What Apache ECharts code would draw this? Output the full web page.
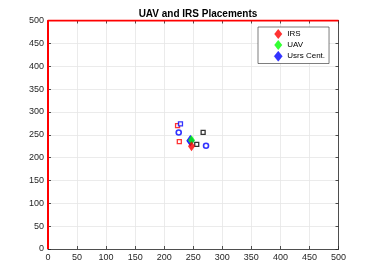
<!DOCTYPE html>
<html>
<head>
<meta charset="utf-8">
<script src="https://cdn.jsdelivr.net/npm/echarts@6/dist/echarts.min.js"></script>
<style>html,body{margin:0;padding:0;background:#fff;}#c{width:374px;height:280px;}</style>
</head>
<body>
<div id="c"></div>
<script>
const titleText = 'UAV and IRS Placements';
const tickLabels = [0, 50, 100, 150, 200, 250, 300, 350, 400, 450, 500];
const boundaryX = [0, 0, 500];
const boundaryY = [0, 500, 500];
const irsPos = [247, 225];
const uavPos = [247, 238];
const usrsCentPos = [245, 237];
const redSquaresX = [223, 226];
const redSquaresY = [270, 235];
const blueSquaresX = [228];
const blueSquaresY = [274];
const blackSquaresX = [267, 256];
const blackSquaresY = [255, 229];
const blueCirclesX = [225, 272];
const blueCirclesY = [255, 226];

const zip = (xs, ys) => xs.map((x, i) => [x, ys[i]]);
const font = 'Liberation Sans, Arial, sans-serif';
const axCol = '#262626';

const chart = echarts.init(document.getElementById('c'), null, {renderer: 'canvas'});
function axisX(pos, show) {
  return {
    type: 'value', min: 0, max: 500, interval: 50, position: pos,
    axisLine: {show: true, onZero: false, lineStyle: {color: axCol, width: 0.8}},
    axisTick: {show: true, inside: true, length: 3, lineStyle: {color: axCol, width: 0.8}},
    axisLabel: {show: show, color: axCol, fontSize: 9, fontFamily: font, margin: 4,
      formatter: v => tickLabels.includes(v) ? String(v) : ''},
    splitLine: {show: show, lineStyle: {color: '#e6e6e6', width: 0.8}}
  };
}
chart.setOption({
  animation: false,
  backgroundColor: '#fff',
  title: {text: titleText, left: 193, textAlign: 'center', top: 4,
    textStyle: {fontSize: 10, fontWeight: 'bold', color: '#000', fontFamily: font}},
  grid: {left: 48, right: 35.5, top: 20.5, bottom: 31},
  xAxis: [axisX('bottom', true), axisX('top', false)],
  yAxis: [axisX('left', true), axisX('right', false)],
  legend: {
    orient: 'vertical', left: 258, top: 27,
    padding: [2, 4, 2, 16], itemGap: 1, itemWidth: 8, itemHeight: 10,
    symbolKeepAspect: false,
    backgroundColor: '#fff', borderColor: axCol, borderWidth: 0.6,
    textStyle: {fontSize: 8, color: '#000', fontFamily: font},
    data: [
      {name: 'IRS', icon: 'diamond'},
      {name: 'UAV', icon: 'diamond'},
      {name: 'Usrs Cent.', icon: 'diamond', itemStyle: {color: '#0000ff', borderColor: '#0000ff', borderWidth: 0.5}}
    ]
  },
  series: [
    {type: 'line', data: zip(boundaryX, boundaryY), showSymbol: false, silent: true,
      lineStyle: {color: '#ff0000', width: 2}, z: 5},
    {type: 'scatter', data: zip(blueCirclesX, blueCirclesY), symbol: 'circle', symbolSize: 5,
      itemStyle: {color: '#fff', borderColor: '#0000ff', borderWidth: 1.6}},
    {type: 'scatter', data: zip(redSquaresX, redSquaresY), symbol: 'rect', symbolSize: 4,
      itemStyle: {color: '#fff', borderColor: '#ff0000', borderWidth: 1.3}},
    {type: 'scatter', data: zip(blueSquaresX, blueSquaresY), symbol: 'rect', symbolSize: 4,
      itemStyle: {color: '#fff', borderColor: '#0000ff', borderWidth: 1.3}},
    {type: 'scatter', data: zip(blackSquaresX, blackSquaresY), symbol: 'rect', symbolSize: 4,
      itemStyle: {color: '#fff', borderColor: '#000', borderWidth: 1.3}},
    {name: 'Usrs Cent.', type: 'scatter', data: [usrsCentPos], symbol: 'diamond', symbolSize: [7, 10],
      itemStyle: {color: '#0000ff', borderColor: '#0000ff', borderWidth: 1}},
    {name: 'UAV', type: 'scatter', data: [uavPos], symbol: 'diamond', symbolSize: [7, 10],
      itemStyle: {color: '#00ff00'}},
    {name: 'IRS', type: 'scatter', data: [irsPos], symbol: 'diamond', symbolSize: [7, 10],
      itemStyle: {color: '#ff0000'}}
  ]
});
</script>
</body>
</html>
